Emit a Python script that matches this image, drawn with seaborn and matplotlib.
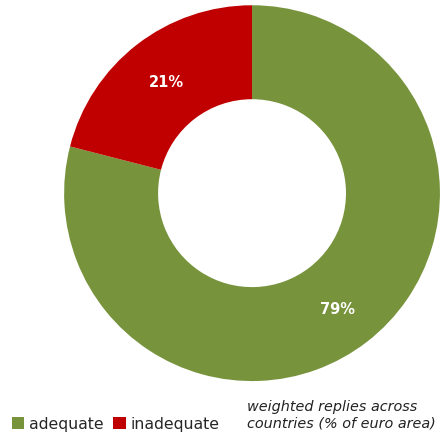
import matplotlib
matplotlib.use("Agg")
import matplotlib.pyplot as plt
import seaborn as sns
from matplotlib.patches import Patch

# data
categories = ["adequate", "inadequate"]
shares = [79, 21]
colors = ["#77933C", "#C00000"]
note = "weighted replies across\ncountries (% of euro area)"

sns.set_theme(style="white")
plt.rcParams["font.family"] = ["DejaVu Sans"]

fig = plt.figure(figsize=(4.41, 4.38), dpi=100)
ax = fig.add_axes([0.145, 0.130, 0.853, 0.858])

wedges, texts, autotexts = ax.pie(
    shares,
    colors=colors,
    startangle=90,
    counterclock=False,
    radius=1.0,
    wedgeprops={"width": 0.5, "linewidth": 0},
    autopct=lambda p: "%d%%" % round(p),
    pctdistance=0.745,
    textprops={"color": "white", "fontweight": "bold", "fontsize": 10.5},
)
# nudge the big label down a little, as in the original
x0, y0 = autotexts[0].get_position()
autotexts[0].set_position((x0, y0 - 0.03))

ax.set_xlim(-1, 1)
ax.set_ylim(-1, 1)
ax.set_aspect("equal")
ax.axis("off")

handles = [Patch(facecolor=c, edgecolor="none") for c in colors]
fig.legend(
    handles,
    categories,
    loc="lower left",
    bbox_to_anchor=(-0.005, -0.018),
    ncol=2,
    frameon=False,
    fontsize=11.3,
    handlelength=0.8,
    handleheight=0.8,
    handletextpad=0.3,
    columnspacing=0.6,
)

fig.text(0.56, 0.017, note, fontsize=10.4, style="italic", color="#222222",
         ha="left", va="bottom", linespacing=1.25)

fig.savefig("out.png", dpi=100)
